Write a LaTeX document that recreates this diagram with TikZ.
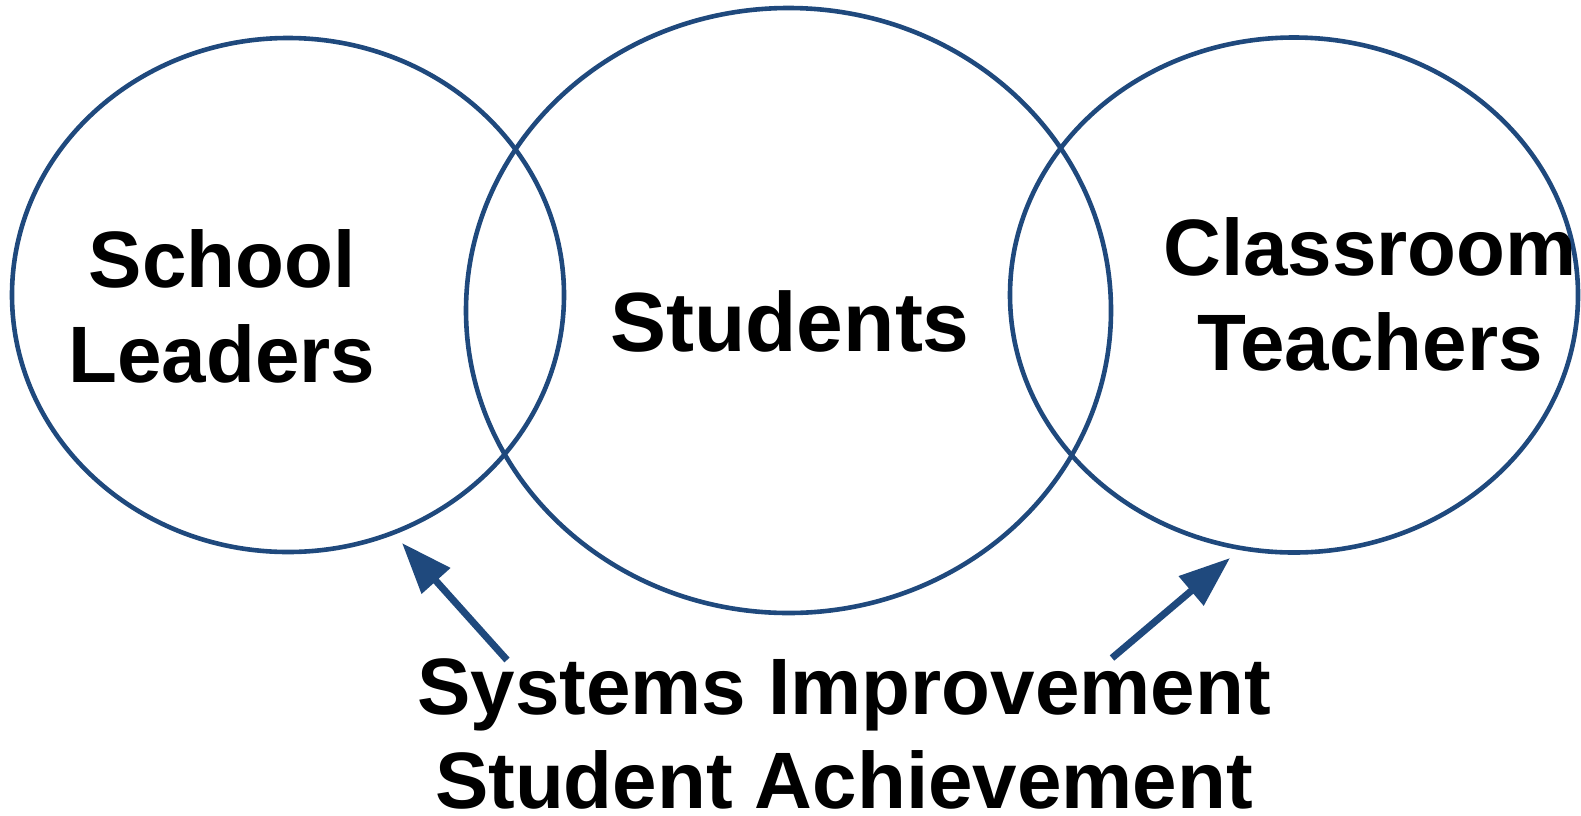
\documentclass[tikz,border=0pt]{standalone}
\usepackage{fontspec}
\setmainfont{Liberation Sans}
\usetikzlibrary{arrows.meta}
\definecolor{vennblue}{RGB}{31,73,125}
\tikzset{>={Triangle[length=51pt,width=37pt]}}
\tikzset{
  ring/.style={draw=vennblue,line width=4.6pt},
  label/.style={inner sep=0pt,align=center,anchor=north,
    font=\bfseries\fontsize{80}{95}\selectfont},
  pointer/.style={->,draw=vennblue,fill=vennblue,line width=7pt}
}

\begin{document}
\begin{tikzpicture}[x=1pt,y=-1pt]
  \useasboundingbox (0,0) rectangle (1581,815);

  %% the three rings
  \draw[ring] (288,295) ellipse [x radius=276, y radius=257];
  \draw[ring] (788.5,310.5) ellipse [x radius=322.5, y radius=302.5];
  \draw[ring] (1294,295) ellipse [x radius=284, y radius=257.5];

  %% texts in the rings
  \node[label] (leaders) at (222,229) {School\\Leaders};
  \node[label,font=\bfseries\fontsize{84}{95}\selectfont]
    (students) at (790,290) {Students};
  \node[label] (teachers) at (1370,217) {Classroom\\Teachers};

  %% goal below
  \node[label,font=\bfseries\fontsize{80}{94}\selectfont]
    (goal) at (844,658) {Systems Improvement\\Student Achievement};

  %% arrows from the goal
  \coordinate (lefttail) at (507,660);
  \coordinate (lefttip) at (402,543);
  \coordinate (righttail) at (1112,658);
  \coordinate (righttip) at (1230,558);
  \draw[pointer] (lefttail) -- (lefttip);
  \draw[pointer] (righttail) -- (righttip);
\end{tikzpicture}
\end{document}
